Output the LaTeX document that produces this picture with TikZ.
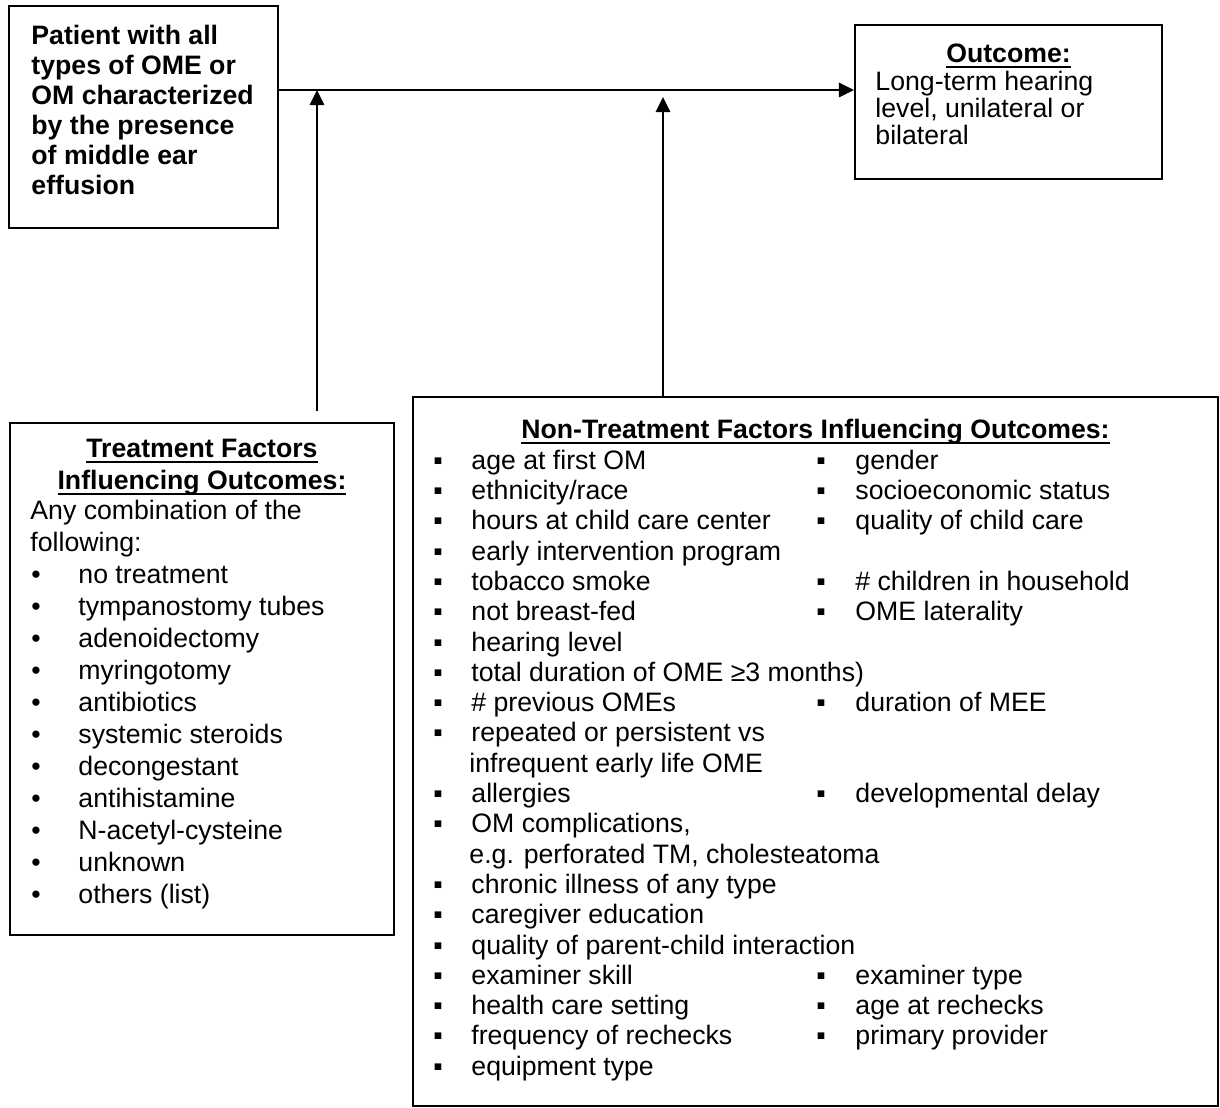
\documentclass[tikz,border=0pt]{standalone}
\usepackage{fontspec}
\setmainfont{Liberation Sans}
\usetikzlibrary{arrows.meta,positioning,calc,fit}

\newcommand\hdul[1]{\setbox0\hbox{#1}\rlap{\rule[-2.3pt]{\wd0}{0.9pt}}\box0}

\tikzset{
	box/.style={draw, line width=0.9pt, inner sep=0pt},
	txt/.style={anchor=base west, inner sep=0pt, font=\fontsize{12}{14}\selectfont},
	head/.style={txt, font=\fontsize{12}{14}\selectfont\bfseries},
	blt/.style={anchor=base, inner sep=0pt, font=\fontsize{12}{14}\selectfont},
	conn/.style={line width=0.7pt, -{Triangle[length=6.8pt,width=6.5pt]}},
}

\begin{document}
\begin{tikzpicture}[x=0.45pt, y=-0.45pt]
\useasboundingbox (0,0) rectangle (1220,1108);
% boxes
\node[box, fit={(9,6) (278,228)}] (patient) {};
\node[box, fit={(855,25) (1162,179)}] (outcome) {};
\node[box, fit={(10,423) (394,935)}] (treat) {};
\node[box, fit={(413,397) (1218,1106)}] (nontreat) {};

% patient
\foreach \t [count=\k from 0] in {Patient with all, types of OME or, OM characterized, by the presence, of middle ear, effusion}
	\node[head] (pat-\k) at (31,{45+30*\k}) {\t};

% outcome
\node[head, anchor=base] (out-h) at (outcome.north |- 0,63) {\hdul{Outcome:}};
\foreach \t [count=\k from 0] in {Long-term hearing, {level, unilateral or}, bilateral}
	\node[txt] (out-\k) at (875,{91+27*\k}) {\t};

% treatment factors
\node[head, anchor=base] (tr-h1) at (treat.north |- 0,458) {\hdul{Treatment Factors}};
\node[head, anchor=base] (tr-h2) at (treat.north |- 0,490) {\hdul{Influencing Outcomes:}};
\node[txt] (tr-l1) at (30,520) {Any combination of the};
\node[txt] (tr-l2) at (30,552) {following:};
\foreach \t [count=\k from 0] in {no treatment, tympanostomy tubes, adenoidectomy, myringotomy, antibiotics, systemic steroids, decongestant, antihistamine, N-acetyl-cysteine, unknown, others (list)}{
	\node[blt] (tr-b\k) at (36,{584+32*\k}) {•};
	\node[txt] (tr-i\k) at (78,{584+32*\k}) {\t};
}

% non-treatment factors
\node[head, anchor=base] (nt-h) at (nontreat.north |- 0,439) {\hdul{Non-Treatment Factors Influencing Outcomes:}};
\foreach \r/\t in {1/age at first OM, 2/{ethnicity/race}, 3/hours at child care center, 4/early intervention program, 5/tobacco smoke, 6/not breast-fed, 7/hearing level, 8/total duration of OME ≥3 months), 9/\# previous OMEs, 10/repeated or persistent vs, 12/allergies, 13/{OM complications,}, 15/chronic illness of any type, 16/caregiver education, 17/quality of parent-child interaction, 18/examiner skill, 19/health care setting, 20/frequency of rechecks, 21/equipment type}{
	\node[blt] (nt-a\r) at (438,{439+30.3*\r}) {▪};
	\node[txt] (nt-t\r) at (471,{439+30.3*\r}) {\t};
}
\node[txt] (nt-t11) at (469,{439+30.3*11}) {infrequent early life OME};
\node[txt] (nt-t14) at (469,{439+30.3*14}) {e.g. perforated TM, cholesteatoma};
\foreach \r/\t in {1/gender, 2/socioeconomic status, 3/quality of child care, 5/\# children in household, 6/OME laterality, 9/duration of MEE, 12/developmental delay, 18/examiner type, 19/age at rechecks, 20/primary provider}{
	\node[blt] (nt-b\r) at (821,{439+30.3*\r}) {▪};
	\node[txt] (nt-s\r) at (855,{439+30.3*\r}) {\t};
}

% connectors
\coordinate (jt) at (317,90);
\coordinate (jn) at (663,97);
\draw[conn] (patient.east |- jt) -- (outcome.west |- jt);
\draw[conn] ($(treat.north -| jt)+(0,-11)$) -- (jt);
\draw[conn] (nontreat.north -| jn) -- (jn);
\end{tikzpicture}
\end{document}
